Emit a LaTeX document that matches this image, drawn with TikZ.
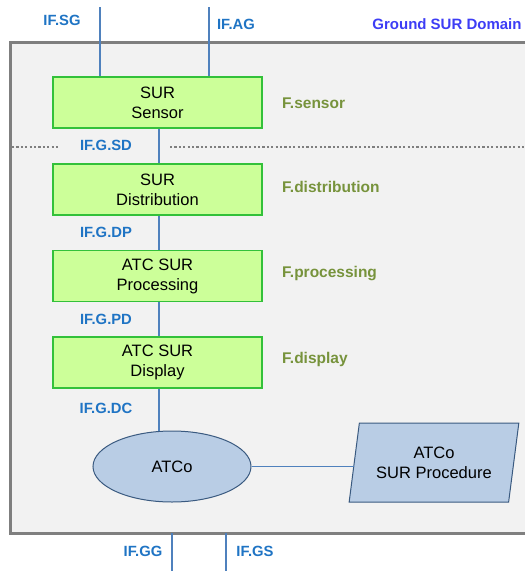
\documentclass[tikz,border=0pt]{standalone}
\usepackage{fontspec}
\setmainfont{Liberation Sans}
\usetikzlibrary{shapes.geometric}
\definecolor{ifblue}{HTML}{1F74C4}
\definecolor{domblue}{HTML}{3D3DF5}
\definecolor{fgreen}{HTML}{77933C}
\definecolor{boxfill}{HTML}{CCFF99}
\definecolor{boxline}{HTML}{33C13A}
\definecolor{wire}{HTML}{4F81BD}
\definecolor{actfill}{HTML}{B9CDE5}
\definecolor{actline}{HTML}{3A5A80}
\definecolor{domfill}{HTML}{F2F2F2}
\definecolor{domline}{HTML}{7F7F7F}
\tikzset{
  funcbox/.style={draw=boxline, fill=boxfill, line width=1.2pt, minimum width=209pt, minimum height=51pt,
    align=center, font=\fontsize{16.5}{20}\selectfont, inner sep=0pt},
  iflabel/.style={text=ifblue, font=\fontsize{14.8}{18}\selectfont\bfseries, inner sep=0pt},
  flabel/.style={text=fgreen, font=\fontsize{15.5}{18}\selectfont\bfseries, inner sep=0pt, anchor=west},
  wireline/.style={draw=wire, line width=1.2pt},
}
\begin{document}
\begin{tikzpicture}[x=1pt, y=-1pt]
\useasboundingbox (0,0) rectangle (525,571);
% domain frame
\fill[domfill] (10,42) rectangle (530,533);
\draw[domline, line width=3pt] (530,42) -- (10,42) -- (10,533) -- (530,533);
\node[text=domblue, font=\fontsize{15}{18}\selectfont\bfseries, inner sep=0pt] (dom) at (447,24) {Ground SUR Domain};

% functional chain
\node[funcbox] (sensor) at (157.5,102.5) {SUR\\Sensor};
\node[funcbox] (dist) at (157.5,189.5) {SUR\\Distribution};
\node[funcbox] (proc) at (157.5,276) {ATC SUR\\Processing};
\node[funcbox] (disp) at (157.5,362.5) {ATC SUR\\Display};
\node[ellipse, draw=actline, fill=actfill, line width=1pt, minimum width=158pt, minimum height=71pt,
  font=\fontsize{16.5}{20}\selectfont, inner sep=0pt] (atco) at (172,466.5) {ATCo};
\node[trapezium, trapezium left angle=76, trapezium right angle=104, draw=actline, fill=actfill, line width=1pt,
  minimum width=170pt, minimum height=79pt, align=center, font=\fontsize{16.5}{20}\selectfont, inner sep=0pt,
  trapezium stretches=true] (proc2) at (434,462.5) {ATCo\\SUR Procedure};

% coordinates for wires leaving the domain
\coordinate (sgtop) at (100,7);
\coordinate (agtop) at (209,7);
\coordinate (ggbot) at (172,571);
\coordinate (gsbot) at (226,571);
\coordinate (gg) at (172,533);
\coordinate (gs) at (226,533);

% dotted separator
\coordinate (d1) at (12,147);
\coordinate (d2) at (58,147);
\coordinate (d3) at (170,147);
\coordinate (d4) at (530,147);
\draw[domline, line width=2.2pt, dash pattern=on 2.2pt off 2.2pt] (d1) -- (d2) (d3) -- (d4);

% wires
\draw[wireline] (sgtop) -- (sgtop |- sensor.north);
\draw[wireline] (agtop) -- (agtop |- sensor.north);
\draw[wireline] (sensor.south -| 159,0) -- (dist.north -| 159,0);
\draw[wireline] (dist.south -| 159,0) -- (proc.north -| 159,0);
\draw[wireline] (proc.south -| 159,0) -- (disp.north -| 159,0);
\draw[wireline] (disp.south -| 159,0) -- (atco.110 -| 159,0);
\draw[wireline] (atco.east) -- (atco.east -| proc2.west);
\draw[wireline] (gg) -- (ggbot);
\draw[wireline] (gs) -- (gsbot);

% interface labels
\node[iflabel] (lsg) at (62,20) {IF.SG};
\node[iflabel] (lag) at (236,24) {IF.AG};
\node[iflabel] (lsd) at (106,145) {IF.G.SD};
\node[iflabel] (ldp) at (106,232.5) {IF.G.DP};
\node[iflabel] (lpd) at (106,319.5) {IF.G.PD};
\node[iflabel] (ldc) at (106,408) {IF.G.DC};
\node[iflabel] (lgg) at (143,551) {IF.GG};
\node[iflabel] (lgs) at (255,551) {IF.GS};

% function labels
\node[flabel] (fs) at (282,103) {F.sensor};
\node[flabel] (fd) at (282,187) {F.distribution};
\node[flabel] (fp) at (282,274) {F.processing};
\node[flabel] (fy) at (282,359) {F.display};
\end{tikzpicture}
\end{document}
